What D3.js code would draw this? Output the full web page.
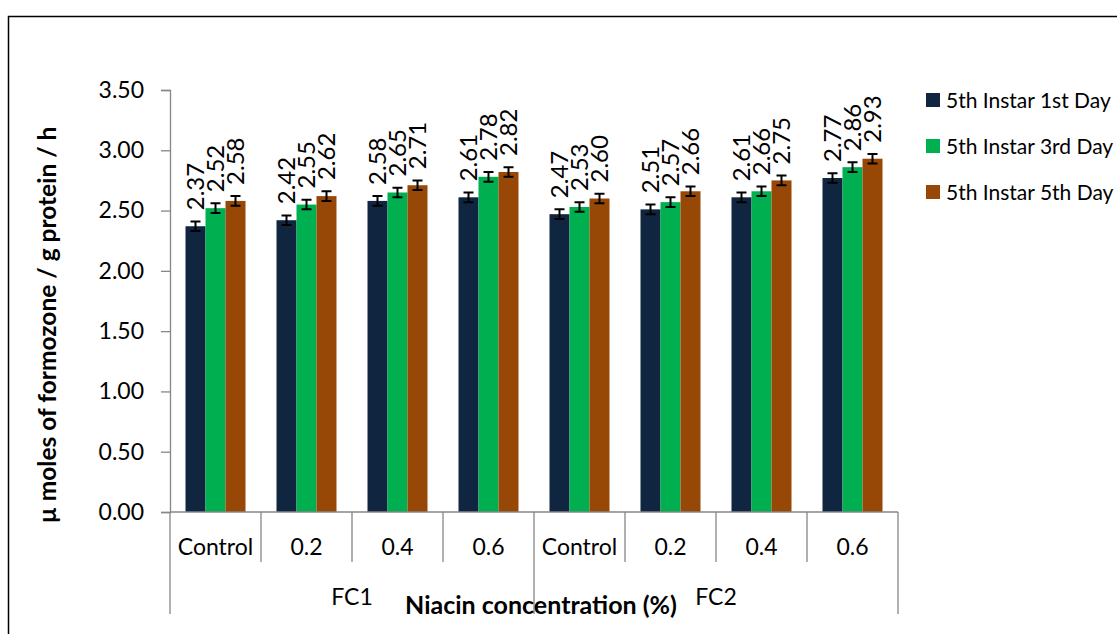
<!DOCTYPE html>
<html>
<head>
<meta charset="utf-8">
<script src="https://cdn.jsdelivr.net/npm/d3@7"></script>
<style>
  body { margin: 0; background: #fff; }
  text { font-family: Lato, "Open Sans", sans-serif; fill: #000; }
</style>
</head>
<body>
<div id="viz"></div>
<script>
const domID = "#viz"

// data
const groups = ["FC1", "FC2"]
const doses = ["Control", "0.2", "0.4", "0.6"]
const seriesNames = ["5th Instar 1st Day", "5th Instar 3rd Day", "5th Instar 5th Day"]
const day1 = [2.37, 2.42, 2.58, 2.61, 2.47, 2.51, 2.61, 2.77]
const day3 = [2.52, 2.55, 2.65, 2.78, 2.53, 2.57, 2.66, 2.86]
const day5 = [2.58, 2.62, 2.71, 2.82, 2.60, 2.66, 2.75, 2.93]
const errDay1 = [0.04, 0.04, 0.04, 0.04, 0.04, 0.04, 0.04, 0.04]
const errDay3 = [0.04, 0.04, 0.04, 0.04, 0.04, 0.04, 0.04, 0.04]
const errDay5 = [0.04, 0.04, 0.04, 0.04, 0.04, 0.04, 0.04, 0.04]
const yTicks = [0, 0.5, 1, 1.5, 2, 2.5, 3, 3.5]

const colors = ["#10253f", "#00b050", "#974806"]

const width = 1117, height = 634
const plot = { left: 170, right: 898, top: 90, bottom: 512 }

const svg = d3.select(domID).append("svg")
    .attr("width", width)
    .attr("height", height)

// outer chart frame (cut off on right and bottom)
svg.append("rect")
    .attr("x", 8.5).attr("y", 16.5)
    .attr("width", width + 20).attr("height", height + 20)
    .attr("fill", "none").attr("stroke", "#000").attr("stroke-width", 1.5)

// category keys, one per bar group
const cats = []
groups.forEach(g => doses.forEach(d => cats.push(g + "|" + d)))

const x = d3.scaleBand().domain(cats).range([plot.left, plot.right]).paddingInner(0).paddingOuter(0)
const xs = d3.scaleBand().domain([0, 1, 2]).range([0, x.bandwidth()]).paddingOuter(0.775).paddingInner(0)
const y = d3.scaleLinear().domain([0, 3.5]).range([plot.bottom, plot.top])

const values = [day1, day3, day5]
const errs = [errDay1, errDay3, errDay5]

// y axis
const yAxis = svg.append("g")
    .attr("transform", `translate(${plot.left},0)`)
    .call(d3.axisLeft(y).tickValues(yTicks).tickFormat(d3.format(".2f")).tickSize(9).tickPadding(17))
yAxis.select(".domain").attr("stroke", "#868686").attr("stroke-width", 1.3)
yAxis.selectAll(".tick line").attr("stroke", "#868686").attr("stroke-width", 1.3)
yAxis.selectAll(".tick text").style("font-size", "23px").style("font-family", "Lato, sans-serif").attr("fill", "#000")

// bars
values.forEach((vals, s) => {
    const g = svg.append("g")
    g.selectAll("rect").data(cats).join("rect")
        .attr("x", c => x(c) + xs(s))
        .attr("width", xs.bandwidth())
        .attr("y", (c, i) => y(vals[i]))
        .attr("height", (c, i) => y(0) - y(vals[i]))
        .attr("fill", colors[s])

    // error bars
    const cap = 5
    g.selectAll("path.err").data(cats).join("path")
        .attr("class", "err")
        .attr("d", (c, i) => {
            const cx = x(c) + xs(s) + xs.bandwidth() / 2
            const y1 = y(vals[i] + errs[s][i]), y2 = y(vals[i] - errs[s][i])
            return `M${cx - cap},${y1} H${cx + cap} M${cx},${y1} V${y2} M${cx - cap},${y2} H${cx + cap}`
        })
        .attr("stroke", "#000").attr("stroke-width", 2).attr("fill", "none")

    // value labels
    g.selectAll("text").data(cats).join("text")
        .attr("transform", (c, i) => `translate(${x(c) + xs(s) + xs.bandwidth() / 2},${y(vals[i]) - 16}) rotate(-90)`)
        .attr("dy", "0.36em")
        .style("font-size", "24px")
        .text((c, i) => vals[i].toFixed(2))
})

// x axis: baseline and multi-level ticks
const axisG = svg.append("g").attr("stroke", "#868686").attr("stroke-width", 1.3)
axisG.append("line").attr("x1", plot.left).attr("x2", plot.right).attr("y1", plot.bottom).attr("y2", plot.bottom)
const boundaries = cats.map(c => x(c)).concat([plot.right])
boundaries.forEach((bx, i) => {
    const outer = i % doses.length === 0
    axisG.append("line")
        .attr("x1", bx).attr("x2", bx)
        .attr("y1", plot.bottom).attr("y2", outer ? 614 : 562)
})

svg.append("g").selectAll("text").data(cats).join("text")
    .attr("x", c => x(c) + x.bandwidth() / 2)
    .attr("y", 555)
    .attr("text-anchor", "middle")
    .style("font-size", "23px")
    .text(c => c.split("|")[1])

svg.append("g").selectAll("text").data(groups).join("text")
    .attr("x", (g, i) => x(g + "|" + doses[0]) + x.bandwidth() * doses.length / 2)
    .attr("y", 605)
    .attr("text-anchor", "middle")
    .style("font-size", "23px")
    .text(g => g)

// axis titles
svg.append("text")
    .attr("x", 541).attr("y", 614)
    .attr("text-anchor", "middle")
    .style("font-size", "25px").style("font-weight", "bold")
    .text("Niacin concentration (%)")

svg.append("text")
    .attr("transform", `translate(56,325) rotate(-90)`)
    .attr("text-anchor", "middle")
    .style("font-size", "24.5px").style("font-weight", "bold")
    .text("µ moles of formozone / g protein / h")

// legend
const legend = svg.append("g").selectAll("g").data(seriesNames).join("g")
    .attr("transform", (d, i) => `translate(926,${93 + i * 46})`)
legend.append("rect").attr("width", 14).attr("height", 14).attr("fill", (d, i) => colors[i])
legend.append("text")
    .attr("x", 20).attr("y", 7).attr("dy", "0.36em")
    .style("font-size", "21px")
    .text(d => d)
</script>
</body>
</html>
